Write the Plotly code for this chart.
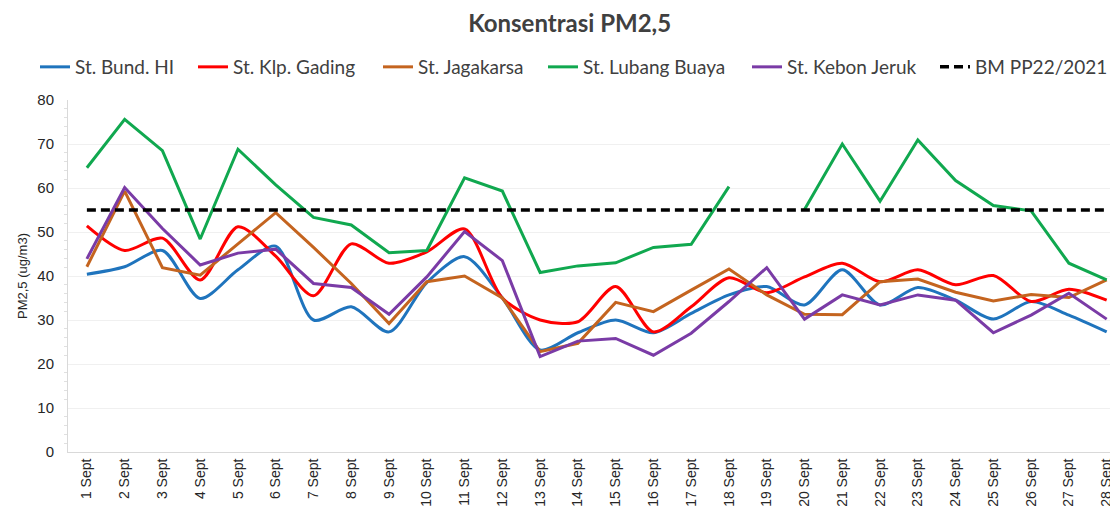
import plotly.graph_objects as go

dates = [f"{d} Sept" for d in range(1, 29)]

bund_hi = [40.4, 42.1, 45.8, 34.9, 41.4, 46.8, 30.0, 33.0, 27.3, 38.5, 44.4, 35.0, 23.2, 27.1,
           30.0, 27.1, 31.5, 35.7, 37.6, 33.4, 41.4, 33.4, 37.4, 34.5, 30.2, 34.2, 31.1, 27.3]
klp_gading = [51.4, 45.8, 48.6, 39.1, 51.2, 44.5, 35.5, 47.3, 42.9, 45.5, 50.7, 35.0, 30.0, 29.6,
              37.6, 27.3, 33.0, 39.6, 36.2, 39.8, 42.9, 38.7, 41.4, 38.0, 40.1, 34.2, 37.0, 34.5]
jagakarsa = [42.1, 59.3, 41.9, 40.2, 47.3, 54.4, 46.5, 38.3, 29.2, 38.7, 40.0, 35.0, 22.8, 24.7,
             34.0, 31.9, 36.8, 41.6, 35.7, 31.3, 31.2, 38.7, 39.3, 36.3, 34.3, 35.8, 35.1, 39.1]
lubang_buaya = [64.6, 75.6, 68.5, 48.4, 68.8, 60.7, 53.3, 51.6, 45.3, 45.8, 62.3, 59.3, 40.8, 42.3,
                43.0, 46.5, 47.2, 60.3, None, 55.1, 70.0, 57.0, 70.9, 61.7, 56.0, 54.8, 42.9, 39.1]
kebon_jeruk = [43.9, 60.1, 50.8, 42.5, 45.2, 46.1, 38.3, 37.4, 31.3, 39.8, 50.1, 43.5, 21.7, 25.2,
               25.8, 22.0, 27.0, 34.2, 41.9, 30.2, 35.7, 33.4, 35.7, 34.5, 27.1, 31.1, 36.1, 30.2]
bm_pp22 = [55, 55, 55, 55, 55, 55, 55, 55, 55, 55, 55, 55, 55, 55,
           55, 55, 55, 55, 55, 55, 55, 55, 55, 55, 55, 55, 55, 55]

# figure geometry (page body adds an 8px offset)
W, H = 1110, 508
ML, MT, MB, MR = 60, 92, 64, 0
PW = W - ML - MR
PH = H - MT - MB

series = [
    ("St. Bund. HI", bund_hi, "#1F74BD", "spline", None),
    ("St. Klp. Gading", klp_gading, "#FF0000", "spline", None),
    ("St. Jagakarsa", jagakarsa, "#C4641F", "linear", None),
    ("St. Lubang Buaya", lubang_buaya, "#10A84F", "linear", None),
    ("St. Kebon Jeruk", kebon_jeruk, "#7A3BA6", "linear", None),
    ("BM PP22/2021", bm_pp22, "#000000", "linear", "9px,5px"),
]
legend_left_px = [27, 185, 370, 535, 739, 927]

fig = go.Figure()
legend_layout = {}
for i, ((name, vals, color, shape, dash), lx) in enumerate(zip(series, legend_left_px)):
    lname = "legend" if i == 0 else f"legend{i + 1}"
    line = dict(color=color, width=3.5 if dash else 3, shape=shape, smoothing=0.8)
    if dash:
        line["dash"] = dash
    fig.add_trace(go.Scatter(
        x=dates, y=vals, name=name, mode="lines", line=line,
        connectgaps=False, legend=lname,
    ))
    legend_layout[lname] = dict(
        orientation="h", x=(lx - ML) / PW, xanchor="left",
        y=1 + (MT - 59) / PH, yanchor="middle",
        font=dict(family="Lato", size=19, color="#404040"),
        itemwidth=30, bgcolor="rgba(0,0,0,0)",
    )

fig.update_layout(
    width=W, height=H,
    paper_bgcolor="white", plot_bgcolor="white",
    margin=dict(l=ML, r=MR, t=MT, b=MB, autoexpand=False),
    title=dict(text="<b>Konsentrasi PM2,5</b>", x=0.506, xanchor="center",
               y=1 - 7 / H, yanchor="top", yref="container", pad=dict(t=0, b=0),
               font=dict(family="Lato", size=24, color="#404040")),
    showlegend=True,
    **legend_layout,
)
fig.update_xaxes(
    type="category", range=[-0.5, 27.3], automargin=False,
    showgrid=False, showline=True, linecolor="#d9d9d9", linewidth=1,
    tickangle=-90, ticks="",
    tickfont=dict(family="Liberation Sans", size=14, color="#262626"),
)
fig.update_yaxes(
    range=[0, 80], dtick=10, showgrid=True, gridcolor="#f0f0f0", gridwidth=1,
    showline=True, linecolor="#d9d9d9", linewidth=1, zeroline=False, automargin=False,
    ticks="", ticklabelstandoff=10,
    tickfont=dict(family="Liberation Sans", size=15, color="#262626"),
    minor=dict(dtick=2, ticks="outside", ticklen=3, tickcolor="#e0e0e0", showgrid=False),
    title=dict(text="PM2,5 (ug/m3)", font=dict(family="Liberation Sans", size=13, color="#262626"), standoff=6),
)

fig.write_html("out.html")
